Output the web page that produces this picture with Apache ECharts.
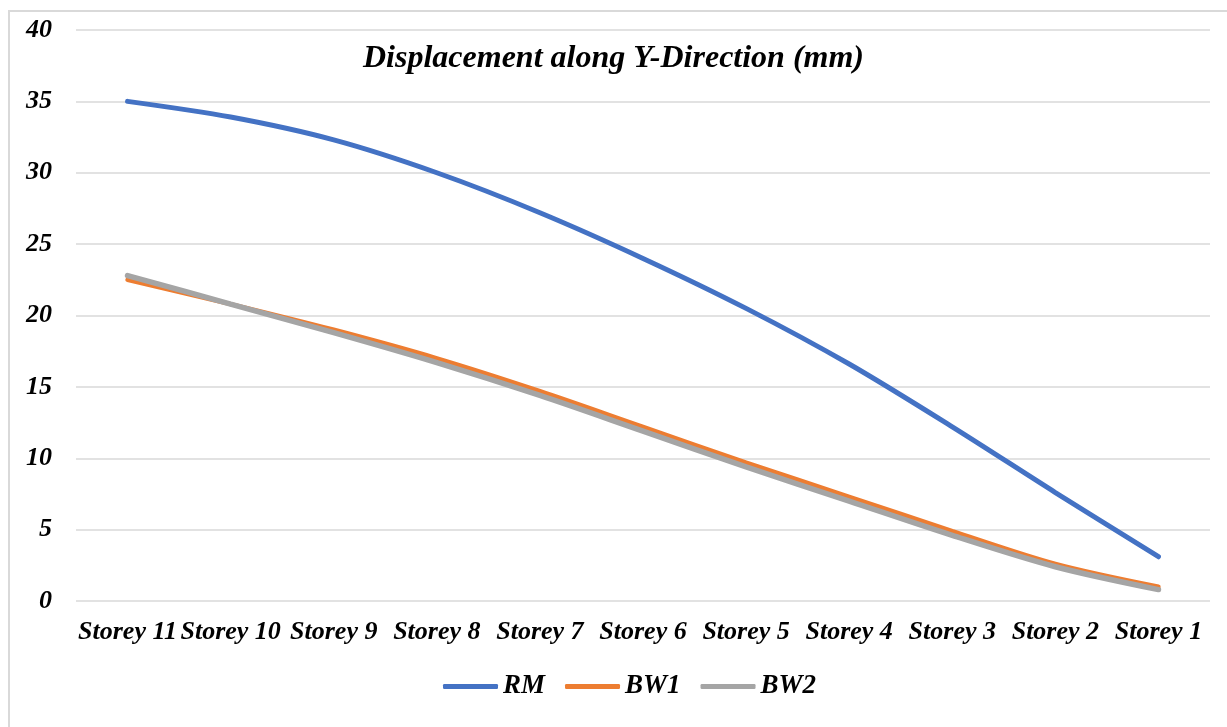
<!DOCTYPE html>
<html>
<head>
<meta charset="utf-8">
<script src="https://cdn.jsdelivr.net/npm/echarts@6/dist/echarts.min.js"></script>
<style>
  html, body { margin: 0; padding: 0; background: #fff; }
  #chart { width: 1227px; height: 727px; }
</style>
</head>
<body>
<div id="chart"></div>
<script>
// storeys, top to bottom as in the original chart
var storeys = ['Storey 11', 'Storey 10', 'Storey 9', 'Storey 8', 'Storey 7', 'Storey 6',
               'Storey 5', 'Storey 4', 'Storey 3', 'Storey 2', 'Storey 1'];
var rm  = [35.0, 33.9, 32.3, 30.0, 27.2, 24.0, 20.5, 16.6, 12.2, 7.6, 3.1];
var bw1 = [22.5, 20.8, 19.0, 17.0, 14.7, 12.2, 9.7, 7.3, 4.9, 2.6, 1.0];
var bw2 = [22.8, 20.8, 18.8, 16.7, 14.4, 11.9, 9.4, 7.0, 4.6, 2.4, 0.8];
var yTicks = { min: 0, max: 40, step: 5 };

var font = '"Liberation Serif", "Times New Roman", serif';
var txt = { fontFamily: font, fontStyle: 'italic', fontWeight: 'bold', color: '#000' };

var myChart = echarts.init(document.getElementById('chart'));
myChart.setOption({
    animation: false,
    title: {
        text: 'Displacement along Y-Direction (mm)',
        left: 'center',
        top: 38,
        textStyle: Object.assign({}, txt, { fontSize: 32 })
    },
    graphic: [{
        type: 'rect',
        shape: { x: 9, y: 11, width: 1240, height: 740 },
        style: { fill: 'none', stroke: '#d9d9d9', lineWidth: 2 },
        silent: true
    }],
    legend: {
        top: 668,
        left: 438,
        itemWidth: 55,
        itemHeight: 5,
        itemGap: 20,
        icon: 'roundRect',
        textStyle: Object.assign({}, txt, { fontSize: 27 }),
        data: ['RM', 'BW1', 'BW2']
    },
    grid: { left: 76, right: 17, top: 30, bottom: 126 },
    xAxis: {
        type: 'category',
        data: storeys,
        axisLine: { show: false },
        axisTick: { show: false },
        axisLabel: Object.assign({}, txt, { fontSize: 26, margin: 18, interval: 0 })
    },
    yAxis: {
        type: 'value',
        min: yTicks.min,
        max: yTicks.max,
        interval: yTicks.step,
        axisLine: { show: false },
        axisTick: { show: false },
        splitLine: { lineStyle: { color: '#d9d9d9', width: 1.5 } },
        axisLabel: Object.assign({}, txt, { fontSize: 26, margin: 24 })
    },
    series: [
        { name: 'RM', type: 'line', data: rm, smooth: 0.3, symbol: 'none',
          lineStyle: { color: '#4472C4', width: 5, cap: 'round' }, itemStyle: { color: '#4472C4' } },
        { name: 'BW1', type: 'line', data: bw1, smooth: 0.3, symbol: 'none',
          lineStyle: { color: '#ED7D31', width: 4.5, cap: 'round' }, itemStyle: { color: '#ED7D31' } },
        { name: 'BW2', type: 'line', data: bw2, smooth: 0.3, symbol: 'none',
          lineStyle: { color: '#A5A5A5', width: 5.5, cap: 'round' }, itemStyle: { color: '#A5A5A5' } }
    ]
});
</script>
</body>
</html>
